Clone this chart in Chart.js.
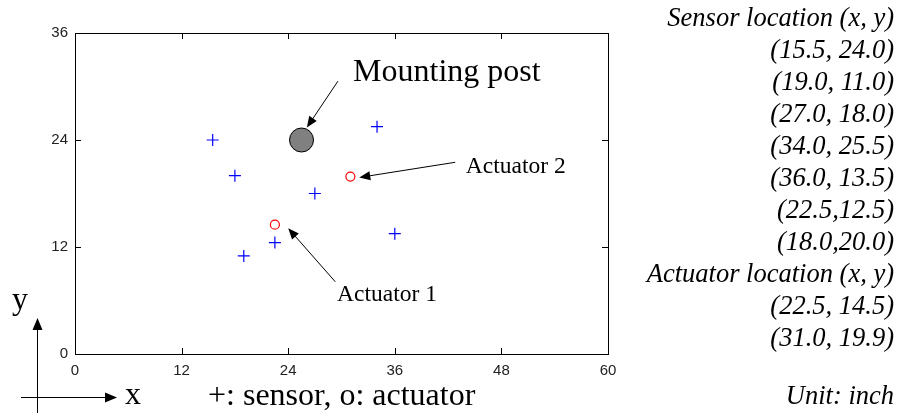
<!DOCTYPE html>
<html>
<head>
<meta charset="utf-8">
<script src="https://cdn.jsdelivr.net/npm/chart.js@4/dist/chart.umd.min.js"></script>
<style>
  html, body { margin: 0; padding: 0; background: #fff; }
  #wrap { width: 901px; height: 420px; position: relative; }
</style>
</head>
<body>
<div id="wrap"><canvas id="layoutChart"></canvas></div>
<script>
// Sensor and actuator locations (inch)
const sensorX = [15.5, 19.0, 27.0, 34.0, 36.0, 22.5, 18.0];
const sensorY = [24.0, 11.0, 18.0, 25.5, 13.5, 12.5, 20.0];
const actuatorX = [22.5, 31.0];
const actuatorY = [14.5, 19.9];
const postX = [25.5];
const postY = [24.0];

const xTicks = [0, 12, 24, 36, 48, 60];
const yTicks = [0, 12, 24, 36];

// Right hand side table
const tableLines = [
    'Sensor location (x, y)',
    '(15.5, 24.0)', '(19.0, 11.0)', '(27.0, 18.0)', '(34.0, 25.5)',
    '(36.0, 13.5)', '(22.5,12.5)', '(18.0,20.0)',
    'Actuator location (x, y)',
    '(22.5, 14.5)', '(31.0, 19.9)'
];

// Callouts: text position and arrow tail -> tip, in data units
const callouts = [
    { text: 'Mounting post', tx: 31.3, ty: 31.6, size: 32, from: [29.6, 30.6], to: [26.1, 25.4] },
    { text: 'Actuator 2', tx: 44.0, ty: 21.0, size: 23.5, from: [42.8, 21.5], to: [32.0, 19.8] },
    { text: 'Actuator 1', tx: 29.5, ty: 6.6, size: 23.5, from: [29.3, 8.1], to: [24.0, 14.1] }
];

const toPoints = (xs, ys) => xs.map((x, i) => ({ x: x, y: ys[i] }));

function arrow(ctx, x1, y1, x2, y2, len, half) {
    const a = Math.atan2(y2 - y1, x2 - x1);
    ctx.beginPath();
    ctx.moveTo(x1, y1);
    ctx.lineTo(x2 - Math.cos(a) * len * 0.8, y2 - Math.sin(a) * len * 0.8);
    ctx.stroke();
    ctx.beginPath();
    ctx.moveTo(x2, y2);
    ctx.lineTo(x2 - Math.cos(a) * len - Math.sin(a) * half, y2 - Math.sin(a) * len + Math.cos(a) * half);
    ctx.lineTo(x2 - Math.cos(a) * len + Math.sin(a) * half, y2 - Math.sin(a) * len - Math.cos(a) * half);
    ctx.closePath();
    ctx.fill();
}

// Box, inward ticks and all the text around the plot
const decorations = {
    id: 'decorations',
    afterDatasetsDraw(chart) {
        const ctx = chart.ctx;
        const xs = chart.scales.x, ys = chart.scales.y;
        const a = chart.chartArea;
        ctx.save();
        ctx.strokeStyle = '#000';
        ctx.fillStyle = '#000';
        ctx.lineWidth = 1;

        // box
        ctx.strokeRect(Math.round(a.left) + 0.5, Math.round(a.top) + 0.5,
            Math.round(a.right - a.left), Math.round(a.bottom - a.top));

        // inward ticks on all four sides
        ctx.beginPath();
        xTicks.forEach(v => {
            const px = Math.round(xs.getPixelForValue(v)) + 0.5;
            ctx.moveTo(px, a.bottom); ctx.lineTo(px, a.bottom - 6);
            ctx.moveTo(px, a.top); ctx.lineTo(px, a.top + 6);
        });
        yTicks.forEach(v => {
            const py = Math.round(ys.getPixelForValue(v)) + 0.5;
            ctx.moveTo(a.left, py); ctx.lineTo(a.left + 6, py);
            ctx.moveTo(a.right, py); ctx.lineTo(a.right - 6, py);
        });
        ctx.stroke();

        // callouts
        ctx.textBaseline = 'middle';
        ctx.textAlign = 'left';
        callouts.forEach(c => {
            ctx.font = c.size + 'px "Liberation Serif"';
            ctx.fillText(c.text, xs.getPixelForValue(c.tx), ys.getPixelForValue(c.ty));
            arrow(ctx, xs.getPixelForValue(c.from[0]), ys.getPixelForValue(c.from[1]),
                xs.getPixelForValue(c.to[0]), ys.getPixelForValue(c.to[1]), 11, 4.5);
        });

        // coordinate system sketch, bottom left
        arrow(ctx, 37.5, 413, 37.5, 318, 12, 5);
        arrow(ctx, 21, 397.5, 117, 397.5, 12, 5);
        ctx.font = '32px "Liberation Serif"';
        ctx.fillText('y', 12, 301);
        ctx.fillText('x', 125, 396);
        ctx.font = '32px "Liberation Serif"';
        ctx.fillText('+: sensor, o: actuator', 208, 397);

        // table on the right
        ctx.textAlign = 'right';
        ctx.font = 'italic 26.5px "Liberation Serif"';
        tableLines.forEach((t, i) => ctx.fillText(t, 894, 19 + i * 32));
        ctx.fillText('Unit: inch', 894, 397);
        ctx.restore();
    }
};

new Chart(document.getElementById('layoutChart'), {
    type: 'scatter',
    data: {
        datasets: [
            {
                label: 'Mounting post',
                data: toPoints(postX, postY),
                pointStyle: 'circle',
                pointRadius: 12,
                backgroundColor: '#808080',
                borderColor: '#000',
                borderWidth: 1
            },
            {
                label: 'Sensor',
                data: toPoints(sensorX, sensorY),
                pointStyle: 'cross',
                pointRadius: 6,
                borderColor: '#0000ff',
                borderWidth: 1.2
            },
            {
                label: 'Actuator',
                data: toPoints(actuatorX, actuatorY),
                pointStyle: 'circle',
                pointRadius: 4.5,
                backgroundColor: 'rgba(0,0,0,0)',
                borderColor: '#ff0000',
                borderWidth: 1.2
            }
        ]
    },
    options: {
        responsive: true,
        maintainAspectRatio: false,
        animation: false,
        layout: { padding: { left: 45, top: 33, right: 293, bottom: 26 } },
        scales: {
            x: {
                type: 'linear', min: 0, max: 60,
                afterFit: s => { s.height = 40; },
                afterBuildTicks: s => { s.ticks = xTicks.map(v => ({ value: v })); },
                grid: { display: false, drawTicks: false },
                border: { display: false },
                ticks: { color: '#222', padding: 8, font: { family: 'Liberation Sans', size: 15 } }
            },
            y: {
                type: 'linear', min: 0, max: 36,
                afterFit: s => { s.width = 30; },
                afterBuildTicks: s => { s.ticks = yTicks.map(v => ({ value: v })); },
                grid: { display: false, drawTicks: false },
                border: { display: false },
                ticks: { color: '#222', padding: 7, font: { family: 'Liberation Sans', size: 15 } }
            }
        },
        plugins: {
            legend: { display: false },
            tooltip: { enabled: false }
        }
    },
    plugins: [decorations]
});
</script>
</body>
</html>
